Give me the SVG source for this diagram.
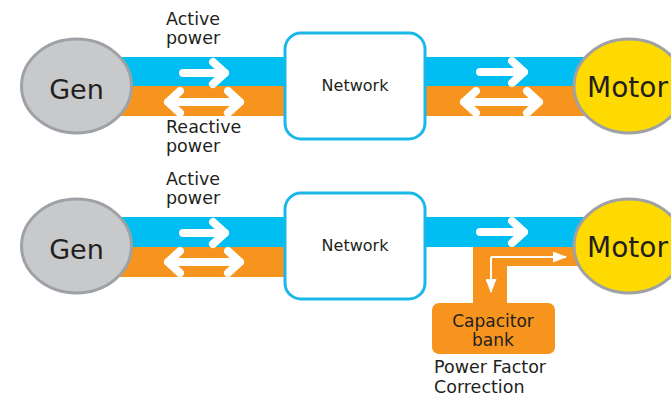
<svg xmlns="http://www.w3.org/2000/svg" width="671" height="399" viewBox="0 0 671 399">
<defs>
<style>
.t{font-family:"DejaVu Sans",sans-serif;fill:#231f20}
.blue{fill:#00bdf2}
.orange{fill:#f7941d}
.gen{fill:#c8c9cb;stroke:#9ea1a5;stroke-width:3}
.motor{fill:#ffda00;stroke:#9ea1a5;stroke-width:3}
.net{fill:#fff;stroke:#1ab8ea;stroke-width:3}
.arr{fill:none;stroke:#fff;stroke-width:8;stroke-linecap:round;stroke-linejoin:round}
.thin{fill:none;stroke:#fff;stroke-width:2}
</style>
<marker id="ahd" viewBox="0 0 14 11" markerWidth="14" markerHeight="11" refX="13" refY="5.5" orient="auto" markerUnits="userSpaceOnUse">
<path d="M0,0 L14,5.5 L0,11 Z" fill="#fff"/>
</marker>
</defs>
<g id="connectors">
<rect class="blue" x="100" y="57" width="500" height="29"/>
<rect class="orange" x="100" y="86" width="500" height="30"/>
<rect class="blue" x="100" y="217" width="500" height="30"/>
<rect class="orange" x="100" y="247" width="190" height="30"/>
<path class="orange" d="M473,247 H600 V266 H507 V306 H473 Z"/>
<path class="arr" d="M183,73 H225 M213,62 L225,73 L213,84"/>
<path class="arr" d="M168,102 H240 M180,91 L168,102 L180,113 M228,91 L240,102 L228,113"/>
<path class="arr" d="M480,72 H524 M512,61 L524,72 L512,83"/>
<path class="arr" d="M464,102 H539 M476,91 L464,102 L476,113 M527,91 L539,102 L527,113"/>
<path class="arr" d="M183,233 H225 M213,222 L225,233 L213,244"/>
<path class="arr" d="M168,262 H240 M180,251 L168,262 L180,273 M228,251 L240,262 L228,273"/>
<path class="arr" d="M480,232 H524 M512,221 L524,232 L512,243"/>
<path class="thin" d="M491,257 H566" marker-end="url(#ahd)"/>
<path class="thin" d="M491,257 V292" marker-end="url(#ahd)"/>
</g>
<g id="gen1"><ellipse class="gen" cx="76.5" cy="86" rx="55" ry="47"/><text class="t" x="76.5" y="99" font-size="27" text-anchor="middle">Gen</text></g>
<g id="network1"><rect class="net" x="285" y="33" width="140" height="106" rx="16"/><text class="t" x="355" y="91" font-size="16" text-anchor="middle">Network</text></g>
<g id="motor1"><ellipse class="motor" cx="629" cy="86" rx="55" ry="47"/><text class="t" x="587" y="97" font-size="28">Motor</text></g>
<g id="gen2"><ellipse class="gen" cx="76.5" cy="246" rx="55" ry="47"/><text class="t" x="76.5" y="259" font-size="27" text-anchor="middle">Gen</text></g>
<g id="network2"><rect class="net" x="285" y="193" width="140" height="106" rx="16"/><text class="t" x="355" y="251" font-size="16" text-anchor="middle">Network</text></g>
<g id="motor2"><ellipse class="motor" cx="629" cy="246" rx="55" ry="47"/><text class="t" x="587" y="257" font-size="28">Motor</text></g>
<g id="capacitor"><rect class="orange" x="432" y="303" width="123" height="51" rx="7"/><text class="t" x="493" y="327" font-size="17" text-anchor="middle">Capacitor</text><text class="t" x="493" y="346" font-size="17" text-anchor="middle">bank</text></g>
<g id="labels">
<text class="t" x="166" y="25" font-size="17.5">Active</text>
<text class="t" x="166" y="44" font-size="17.5">power</text>
<text class="t" x="166" y="133" font-size="17.5">Reactive</text>
<text class="t" x="166" y="152" font-size="17.5">power</text>
<text class="t" x="166" y="185" font-size="17.5">Active</text>
<text class="t" x="166" y="204" font-size="17.5">power</text>
<text class="t" x="434" y="373" font-size="17.5">Power Factor</text>
<text class="t" x="434" y="393" font-size="17.5">Correction</text>
</g>
</svg>
